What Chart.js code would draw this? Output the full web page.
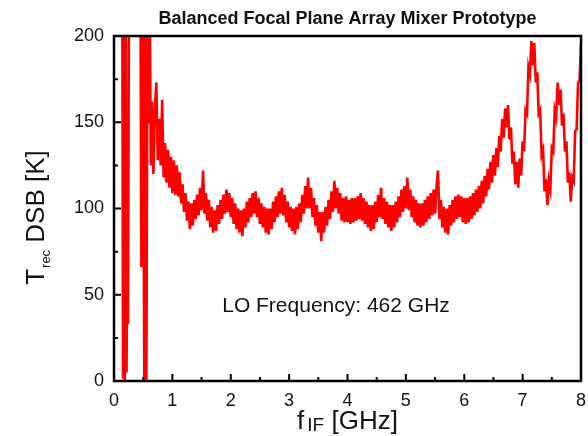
<!DOCTYPE html>
<html><head><meta charset="utf-8">
<script src="https://cdn.jsdelivr.net/npm/chart.js@4"></script>
<style>html,body{margin:0;padding:0;background:#fff}canvas{display:block}</style>
</head><body>
<canvas id="c" width="588" height="436"></canvas>
<script>
const chartTitle = 'Balanced Focal Plane Array Mixer Prototype';
const annotationText = 'LO Frequency: 462 GHz';
const xMajorTicks = [0,1,2,3,4,5,6,7,8];
const xMinorTicks = [0.5,1.5,2.5,3.5,4.5,5.5,6.5,7.5];
const yMajorTicks = [0,50,100,150,200];
const yMinorTicks = [25,75,125,175];

const freqGHz = [
 0.14,0.155,0.17,0.185,0.2,0.215,0.23,0.24,0.26,0.3,0.35,0.4,0.45,0.47,0.49,0.52,0.54,0.555,0.575,0.6,0.615,0.63,
 0.65,0.675,0.7,0.725,0.75,0.775,0.8,0.825,0.85,0.875,0.9,0.925,0.95,0.975,1,1.025,1.05,1.075,1.1,1.125,
 1.15,1.175,1.2,1.225,1.25,1.275,1.3,1.325,1.35,1.375,1.4,1.425,1.45,1.475,1.5,1.525,1.55,1.575,1.6,1.625,
 1.65,1.675,1.7,1.725,1.75,1.775,1.8,1.825,1.85,1.875,1.9,1.925,1.95,1.975,2,2.025,2.05,2.075,2.1,2.125,
 2.15,2.175,2.2,2.225,2.25,2.275,2.3,2.325,2.35,2.375,2.4,2.425,2.45,2.475,2.5,2.525,2.55,2.575,2.6,2.625,
 2.65,2.675,2.7,2.725,2.75,2.775,2.8,2.825,2.85,2.875,2.9,2.925,2.95,2.975,3,3.025,3.05,3.075,3.1,3.125,
 3.15,3.175,3.2,3.225,3.25,3.275,3.3,3.325,3.35,3.375,3.4,3.425,3.45,3.475,3.5,3.525,3.55,3.575,3.6,3.625,
 3.65,3.675,3.7,3.725,3.75,3.775,3.8,3.825,3.85,3.875,3.9,3.925,3.95,3.975,4,4.025,4.05,4.075,4.1,4.125,
 4.15,4.175,4.2,4.225,4.25,4.275,4.3,4.325,4.35,4.375,4.4,4.425,4.45,4.475,4.5,4.525,4.55,4.575,4.6,4.625,
 4.65,4.675,4.7,4.725,4.75,4.775,4.8,4.825,4.85,4.875,4.9,4.925,4.95,4.975,5,5.025,5.05,5.075,5.1,5.125,
 5.15,5.175,5.2,5.225,5.25,5.275,5.3,5.325,5.35,5.375,5.4,5.425,5.45,5.475,5.5,5.525,5.55,5.575,5.6,5.625,
 5.65,5.675,5.7,5.725,5.75,5.775,5.8,5.825,5.85,5.875,5.9,5.925,5.95,5.975,6,6.025,6.05,6.075,6.1,6.125,
 6.15,6.175,6.2,6.225,6.25,6.275,6.3,6.325,6.35,6.375,6.4,6.425,6.45,6.475,6.5,6.525,6.55,6.575,6.6,6.625,
 6.65,6.675,6.7,6.725,6.75,6.775,6.8,6.825,6.85,6.875,6.9,6.925,6.95,6.975,7,7.025,7.05,7.075,7.1,7.125,
 7.15,7.175,7.2,7.225,7.25,7.275,7.3,7.325,7.35,7.375,7.4,7.425,7.45,7.475,7.5,7.525,7.55,7.575,7.6,7.625,
 7.65,7.675,7.7,7.725,7.75,7.775,7.8,7.825,7.85,7.875,7.9,7.925,7.95,7.975,8
];
const trecK = [
 270,2,260,-2,250,5,104,33,260,300,280,300,260,66,250,-5,260,-3,240,150,205,125,
 162,120,158,173,128,152,125,163,118,138,115,134,112,130,109,128,108,125,107,121,
 103,114,98,109,93,104,88,103,90,105,94,108,96,112,99,122,97,109,93,105,
 89,101,86,99,87,102,91,105,94,108,97,111,98,109,95,106,91,103,88,100,
 86,99,84,100,89,104,92,106,95,109,97,110,95,106,91,103,89,101,86,100,
 85,100,88,104,92,107,95,110,97,112,96,108,92,104,89,101,87,100,85,101,
 88,103,92,108,97,113,100,118,100,112,95,106,90,102,86,98,81,98,86,101,
 90,105,94,110,98,116,100,112,97,109,93,106,92,107,92,105,91,106,92,106,
 93,107,94,109,93,106,91,104,89,102,87,102,88,104,92,108,95,112,94,106,
 91,104,89,102,87,102,89,104,92,107,95,111,98,113,100,118,99,111,95,107,
 92,105,90,103,89,103,90,105,92,107,94,109,96,111,97,113,122,94,105,89,
 101,86,100,85,102,90,105,92,107,94,108,95,107,92,106,91,106,92,107,94,
 109,96,111,98,113,100,116,103,119,107,123,111,127,115,131,119,135,124,142,133,
 152,141,158,147,160,140,147,126,133,114,127,112,129,119,139,133,157,155,182,178,
 197,183,196,173,179,155,157,131,134,110,117,102,116,111,135,133,157,153,173,160,
 169,148,155,133,139,115,121,104,118,116,145,146,173,174,195
];

const FONT = '"Liberation Sans", Arial, Helvetica, sans-serif';
const points = freqGHz.map((f, i) => ({x: f, y: trecK[i]}));

const decor = {
  id: 'decor',
  afterDatasetsDraw(chart) {
    const {ctx, chartArea: a, scales: {x, y}} = chart;
    ctx.save();
    ctx.strokeStyle = '#000';
    ctx.lineWidth = 2;
    ctx.beginPath();
    yMajorTicks.forEach(v => { const p = y.getPixelForValue(v); ctx.moveTo(a.left, p); ctx.lineTo(a.left + 7, p); });
    yMinorTicks.forEach(v => { const p = y.getPixelForValue(v); ctx.moveTo(a.left, p); ctx.lineTo(a.left + 4, p); });
    xMajorTicks.forEach(v => { const p = x.getPixelForValue(v); ctx.moveTo(p, a.bottom); ctx.lineTo(p, a.bottom - 7); });
    xMinorTicks.forEach(v => { const p = x.getPixelForValue(v); ctx.moveTo(p, a.bottom); ctx.lineTo(p, a.bottom - 4); });
    ctx.stroke();
    ctx.lineWidth = 2.5;
    ctx.strokeRect(a.left, a.top, a.right - a.left, a.bottom - a.top);
    ctx.restore();
  },
  afterDraw(chart) {
    const {ctx, chartArea: a} = chart;
    ctx.save();
    ctx.fillStyle = '#111';
    ctx.font = 'bold 18px ' + FONT;
    ctx.textAlign = 'center';
    ctx.textBaseline = 'alphabetic';
    ctx.fillText(chartTitle, (a.left + a.right) / 2, 24);
    ctx.font = '21px ' + FONT;
    ctx.fillText(annotationText, 336, 312);
    ctx.textAlign = 'left';
    const big = '26px ' + FONT, sub = '19px ' + FONT;
    ctx.font = big; const wf = ctx.measureText('f').width;
    ctx.font = sub; const wi = ctx.measureText('IF').width;
    ctx.font = big; const wr = ctx.measureText(' [GHz]').width;
    let x0 = (a.left + a.right) / 2 - (wf + 3 + wi + wr) / 2;
    const by = 429;
    ctx.font = big; ctx.fillText('f', x0, by);
    ctx.font = sub; ctx.fillText('IF', x0 + wf + 3, by + 2);
    ctx.font = big; ctx.fillText(' [GHz]', x0 + wf + 3 + wi, by);
    ctx.translate(44, (a.top + a.bottom) / 2 + 9);
    ctx.rotate(-Math.PI / 2);
    const ysub = '13px ' + FONT;
    ctx.font = big; const wt = ctx.measureText('T').width;
    ctx.font = ysub; const wrec = ctx.measureText('rec').width;
    ctx.font = big; const wd = ctx.measureText(' DSB [K]').width;
    let s = -(wt + 1 + wrec + wd) / 2;
    ctx.font = big; ctx.fillText('T', s, 0);
    ctx.font = ysub; ctx.fillText('rec', s + wt + 1, 6);
    ctx.font = big; ctx.fillText(' DSB [K]', s + wt + 1 + wrec, 0);
    ctx.restore();
  }
};

new Chart(document.getElementById('c'), {
  type: 'line',
  data: {
    datasets: [{
      data: points,
      borderColor: '#ff0000',
      borderWidth: 2.6,
      pointRadius: 0,
      tension: 0,
      fill: false,
      clip: 0
    }]
  },
  options: {
    responsive: false,
    animation: false,
    devicePixelRatio: 1,
    layout: {padding: {left: 0, right: 7, top: 36, bottom: 0}},
    plugins: {legend: {display: false}, title: {display: false}, tooltip: {enabled: false}},
    scales: {
      x: {
        type: 'linear', min: 0, max: 8,
        afterBuildTicks: s => { s.ticks = xMajorTicks.map(v => ({value: v})); },
        afterFit: s => { s.height = 55; s.paddingLeft = 0; s.paddingRight = 0; },
        grid: {display: false, drawTicks: false},
        border: {display: false},
        ticks: {color: '#111', font: {family: FONT, size: 18}, padding: 9, maxRotation: 0}
      },
      y: {
        type: 'linear', min: 0, max: 200,
        afterBuildTicks: s => { s.ticks = yMajorTicks.map(v => ({value: v})); },
        afterFit: s => { s.width = 114; s.paddingTop = 0; s.paddingBottom = 0; },
        grid: {display: false, drawTicks: false},
        border: {display: false},
        ticks: {color: '#111', font: {family: FONT, size: 18}, padding: 10}
      }
    }
  },
  plugins: [decor]
});
</script>
</body></html>
